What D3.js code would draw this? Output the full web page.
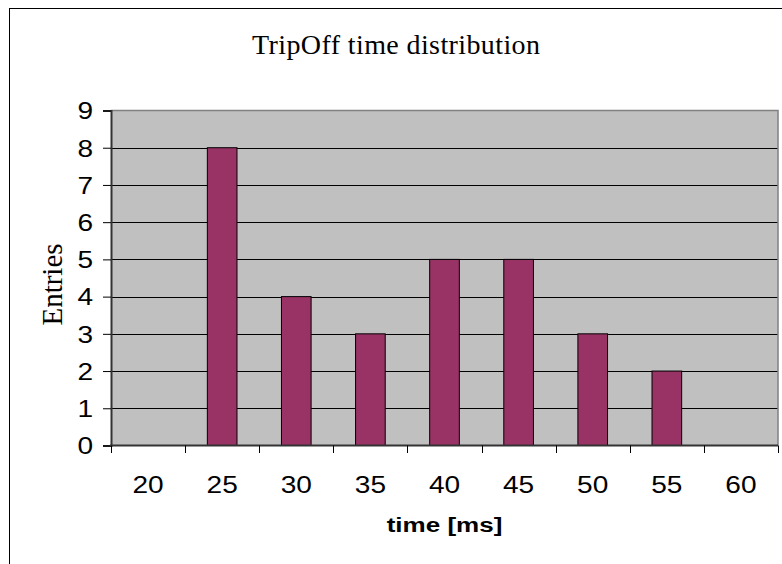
<!DOCTYPE html>
<html>
<head>
<meta charset="utf-8">
<script src="https://cdn.jsdelivr.net/npm/d3@7"></script>
<style>
  html, body { margin: 0; padding: 0; background: #fff; }
  svg { display: block; }
</style>
</head>
<body>
<svg id="chart" width="782" height="564"></svg>
<script>
// Histogram bins (ms) and counts per bin
const timeBins = ["20", "25", "30", "35", "40", "45", "50", "55", "60"];
const entries  = [0, 8, 4, 3, 5, 5, 3, 2, 0];
const yTicks   = [0, 1, 2, 3, 4, 5, 6, 7, 8, 9];

const svg = d3.select("#chart");
const plot = { left: 111, right: 778, top: 110.5, bottom: 445.5 };
const sansStretch = 1.22;

// Outer chart frame
svg.append("rect")
  .attr("x", 9.5).attr("y", 8.5)
  .attr("width", 800).attr("height", 600)
  .attr("fill", "#fff").attr("stroke", "#000").attr("stroke-width", 1);

const x = d3.scaleBand().domain(timeBins).range([plot.left, plot.right]).paddingInner(0).paddingOuter(0);
const y = d3.scaleLinear().domain([0, 9]).range([plot.bottom, plot.top]);

// Plot background
svg.append("rect")
  .attr("x", plot.left).attr("y", plot.top)
  .attr("width", plot.right - plot.left).attr("height", plot.bottom - plot.top)
  .attr("fill", "#c0c0c0");

// Horizontal gridlines
svg.append("g")
  .selectAll("line")
  .data(yTicks.filter(d => d > 0 && d < 9))
  .join("line")
  .attr("x1", plot.left).attr("x2", plot.right)
  .attr("y1", d => Math.round(y(d)) + 0.5).attr("y2", d => Math.round(y(d)) + 0.5)
  .attr("stroke", "#000").attr("stroke-width", 1);

// Plot border (top/right)
svg.append("path")
  .attr("d", `M${plot.left},${plot.top}H${plot.right}V${plot.bottom}`)
  .attr("fill", "none").attr("stroke", "#808080").attr("stroke-width", 1.5);

// Bars
const barW = x.bandwidth() / 2.5;
svg.append("g")
  .selectAll("rect")
  .data(timeBins.map((t, i) => ({ t, v: entries[i] })).filter(d => d.v > 0))
  .join("rect")
  .attr("x", d => x(d.t) + x.bandwidth() / 2 - barW / 2)
  .attr("y", d => y(d.v))
  .attr("width", barW)
  .attr("height", d => y(0) - y(d.v))
  .attr("fill", "#993366")
  .attr("stroke", "#000").attr("stroke-width", 1);

// Y axis
const yAxis = svg.append("g")
  .attr("transform", `translate(${plot.left},0)`)
  .call(d3.axisLeft(y).tickValues(yTicks).tickSize(8).tickPadding(10).tickFormat(d3.format("d")));
yAxis.select(".domain").attr("stroke", "#333").attr("stroke-width", 2);
yAxis.selectAll(".tick line").attr("stroke", "#000");
yAxis.selectAll(".tick text")
  .attr("font-family", "'Liberation Sans', Arial, sans-serif")
  .attr("font-size", 23)
  .attr("fill", "#000")
  .attr("dy", "0.36em")
  .attr("transform", function () {
    const tx = -18;
    return `translate(${tx},0) scale(${sansStretch},1) translate(${-tx},0)`;
  });

// X axis: ticks at bin boundaries, labels at bin centres
const xb = svg.append("g").attr("transform", `translate(0,${plot.bottom})`);
xb.append("line")
  .attr("x1", plot.left - 1).attr("x2", plot.right)
  .attr("stroke", "#333").attr("stroke-width", 2);
xb.selectAll(".bound")
  .data(d3.range(timeBins.length + 1))
  .join("line")
  .attr("class", "bound")
  .attr("x1", i => Math.round(plot.left + i * x.step()) + 0.5)
  .attr("x2", i => Math.round(plot.left + i * x.step()) + 0.5)
  .attr("y1", 0).attr("y2", 7.5)
  .attr("stroke", "#000");
xb.selectAll(".lbl")
  .data(timeBins)
  .join("text")
  .attr("class", "lbl")
  .attr("text-anchor", "middle")
  .attr("font-family", "'Liberation Sans', Arial, sans-serif")
  .attr("font-size", 23)
  .attr("transform", d => {
    const cx = x(d) + x.bandwidth() / 2;
    return `translate(${cx},47) scale(${sansStretch},1)`;
  })
  .text(d => d);

// Axis titles
svg.append("text")
  .attr("text-anchor", "middle")
  .attr("font-family", "'Liberation Sans', Arial, sans-serif")
  .attr("font-weight", "bold")
  .attr("font-size", 21)
  .attr("transform", `translate(${(plot.left + plot.right) / 2},532) scale(1.24,1)`)
  .text("time [ms]");

svg.append("text")
  .attr("text-anchor", "middle")
  .attr("font-family", "'Liberation Serif', 'Times New Roman', serif")
  .attr("font-size", 29)
  .attr("transform", "translate(62,284.5) rotate(-90)")
  .text("Entries");

// Chart title
svg.append("text")
  .attr("text-anchor", "middle")
  .attr("font-family", "'Liberation Serif', 'Times New Roman', serif")
  .attr("font-size", 28)
  .attr("x", 396).attr("y", 54)
  .attr("textLength", 288)
  .attr("lengthAdjust", "spacing")
  .text("TripOff time distribution");
</script>
</body>
</html>
